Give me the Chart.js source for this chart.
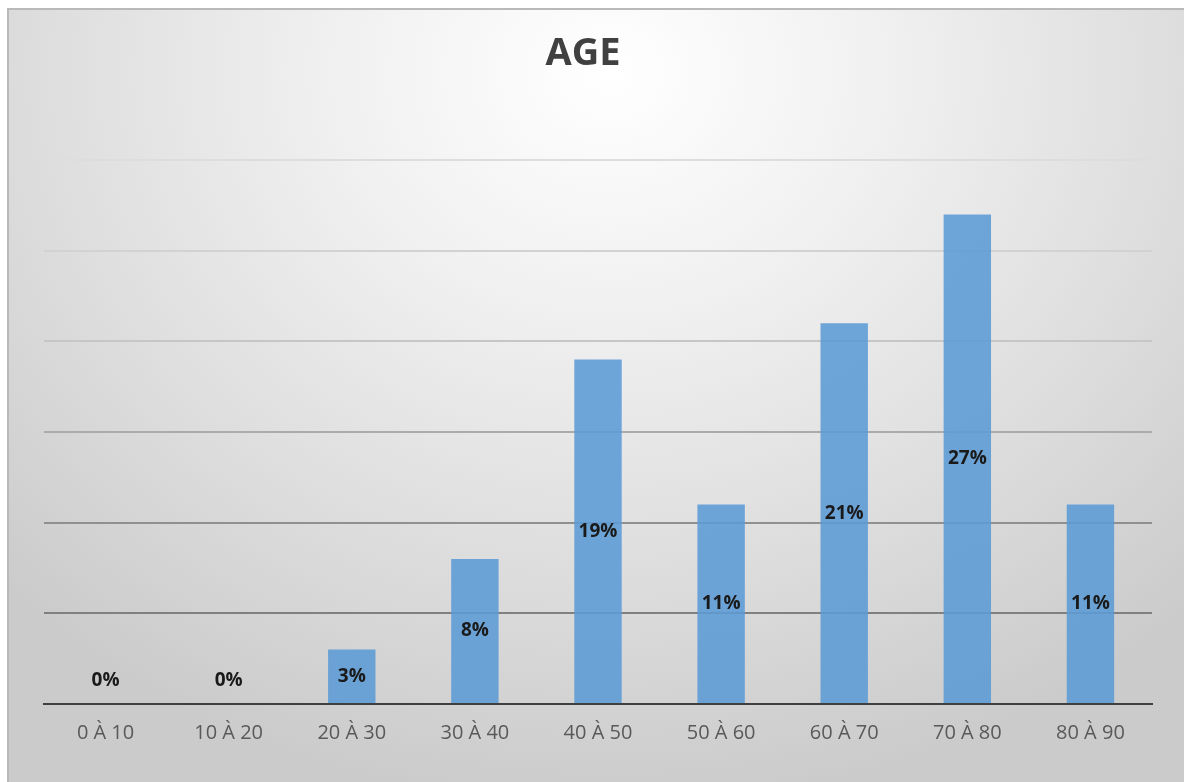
<!DOCTYPE html>
<html>
<head>
<meta charset="utf-8">
<script src="https://cdn.jsdelivr.net/npm/chart.js@4"></script>
<style>
    html, body { margin: 0; padding: 0; background: #ffffff; }
    #box {
        position: absolute;
        left: 7px;
        top: 8px;
        width: 1177px;
        height: 774px;
        border-top: 2px solid #b9b9b9;
        border-left: 2px solid #b9b9b9;
        background: radial-gradient(ellipse 72% 95% at 51% 8%, #ffffff 0%, #f0f0f0 33%, #dddddd 68%, #cbcbcb 100%);
    }
    canvas { display: block; }
</style>
</head>
<body>
<div id="box"><canvas id="chart" width="1175" height="772"></canvas></div>
<script>
var chartTitle = 'AGE';
var categories = ['0 À 10', '10 À 20', '20 À 30', '30 À 40', '40 À 50', '50 À 60', '60 À 70', '70 À 80', '80 À 90'];
var percentages = [0, 0, 3, 8, 19, 11, 21, 27, 11];
var yTicks = [0, 5, 10, 15, 20, 25, 30];

var gridColors = {
    30: '#dddddd',
    25: '#d2d2d2',
    20: '#c6c6c6',
    15: '#ababab',
    10: '#909090',
    5: '#808080'
};

// title sits a bit left of the plot centre in the original, so draw it by hand
var titlePlugin = {
    id: 'titlePlugin',
    afterDraw: function (chart) {
        var ctx = chart.ctx;
        ctx.save();
        ctx.font = 'bold 38px "Open Sans", sans-serif';
        ctx.fillStyle = '#404040';
        ctx.textAlign = 'center';
        ctx.textBaseline = 'middle';
        ctx.fillText(chartTitle, 574, 44);
        ctx.restore();
    }
};

// labels inside the bars, like Excel's "centre" data labels
var barLabels = {
    id: 'barLabels',
    afterDatasetsDraw: function (chart) {
        var ctx = chart.ctx;
        var meta = chart.getDatasetMeta(0);
        ctx.save();
        ctx.font = 'bold 19px "Open Sans", sans-serif';
        ctx.fillStyle = '#1a1a1a';
        ctx.textAlign = 'center';
        ctx.textBaseline = 'middle';
        meta.data.forEach(function (bar, i) {
            var v = percentages[i];
            var y = (bar.y + bar.base) / 2;
            if (v === 0) {
                y = bar.base - 23;
            }
            ctx.fillText(v + '%', bar.x, y);
        });
        ctx.restore();
    }
};

var ctx = document.getElementById('chart').getContext('2d');
var chart = new Chart(ctx, {
    type: 'bar',
    data: {
        labels: categories,
        datasets: [
            {
                label: chartTitle,
                data: percentages,
                backgroundColor: 'rgba(91, 155, 213, 0.88)',
                borderWidth: 0,
                barPercentage: 0.385,
                categoryPercentage: 1
            }
        ]
    },
    plugins: [barLabels, titlePlugin],
    options: {
        responsive: false,
        animation: false,
        layout: {
            padding: { left: 35, right: 32, top: 150, bottom: 20 }
        },
        plugins: {
            legend: { display: false },
            tooltip: { enabled: false },
            title: { display: false }
        },
        scales: {
            x: {
                grid: { display: false, drawTicks: false },
                border: { display: true, color: '#3f3f3f', width: 2 },
                ticks: {
                    color: '#595959',
                    padding: 17,
                    font: { family: '"Open Sans", sans-serif', size: 20 }
                }
            },
            y: {
                min: 0,
                max: 30,
                afterBuildTicks: function (axis) {
                    axis.ticks = yTicks.map(function (v) { return { value: v }; });
                },
                ticks: { display: false },
                border: { display: false },
                grid: {
                    drawTicks: false,
                    lineWidth: 2,
                    color: function (c) {
                        return gridColors[c.tick.value] || 'rgba(0,0,0,0)';
                    }
                }
            }
        }
    }
});
</script>
</body>
</html>
